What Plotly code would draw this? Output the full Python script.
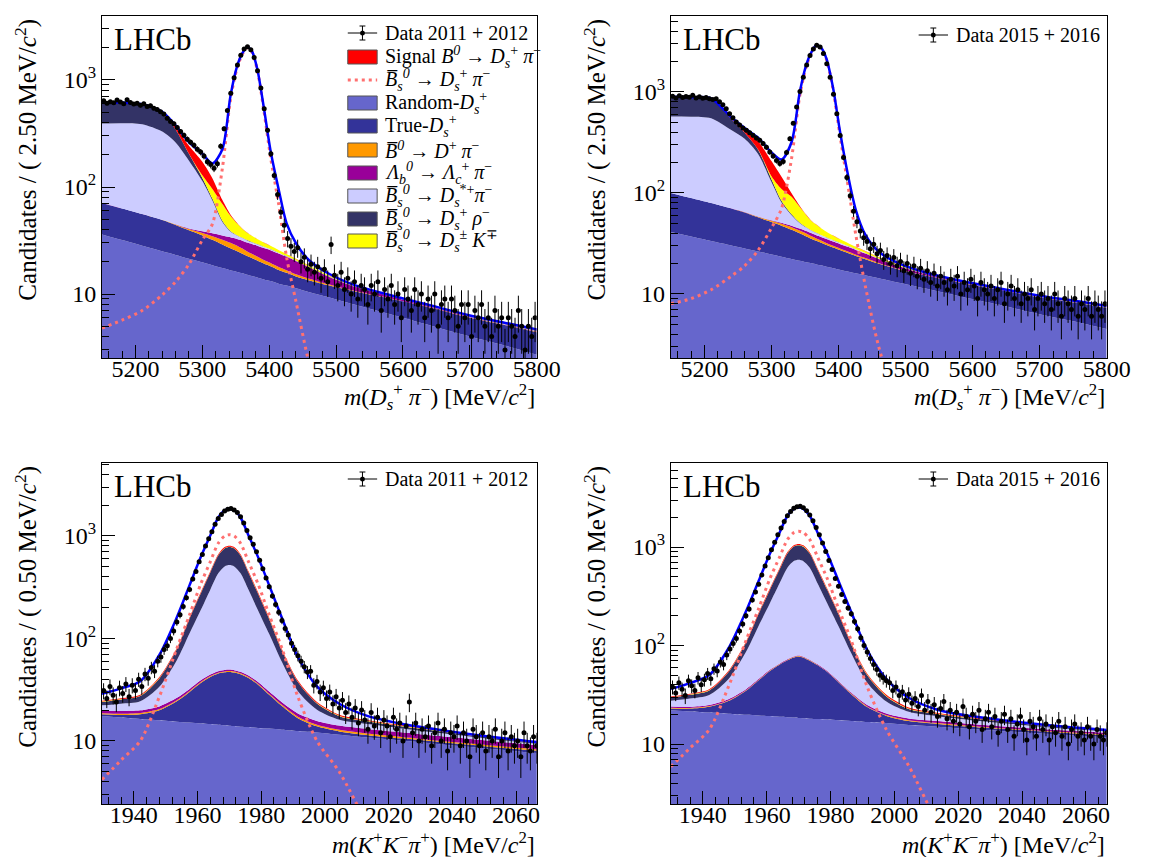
import numpy as np
import plotly.graph_objects as go
from plotly.subplots import make_subplots

W, H = 1153, 857
SERIF = "Liberation Serif"

# ---- fit components, m(Ds pi) projection (values per 2.50 MeV) ----
mass_dspi = [5150, 5180, 5210, 5240, 5260, 5280, 5300, 5315, 5330, 5342, 5352, 5360, 5367, 5374,
             5382, 5392, 5402, 5414, 5426, 5440, 5460, 5490, 5530, 5580, 5640, 5700, 5760, 5800]

run1_dspi_random = [36.0, 31.9, 28.3, 25.1, 23.2, 21.4, 19.8, 18.6, 17.5, 16.7, 16.1, 15.6, 15.1, 14.7,
                    14.3, 13.7, 13.2, 12.5, 12.0, 11.3, 10.4, 9.3, 7.9, 6.5, 5.1, 4.0, 3.2, 2.7]
run1_dspi_true = [35, 31, 27.5, 24, 21, 18, 15.5, 13.5, 11.5, 10, 9, 8.2, 7.5, 7,
                  6.3, 5.6, 5, 4.3, 3.8, 3.3, 3, 2.7, 2.6, 2.6, 2.4, 2.0, 1.8, 1.7]
run1_dspi_bdpi = [0.05, 0.05, 0.1, 0.2, 0.5, 1.0, 1.8, 2.6, 3.2, 3.4, 3.2, 2.8, 2.4, 2.1,
                  1.8, 1.5, 1.3, 1.1, 0.9, 0.7, 0.5, 0.25, 0.1, 0.05, 0.03, 0.03, 0.03, 0.03]
run1_dspi_lb = [0.05, 0.05, 0.05, 0.05, 0.2, 0.6, 1.4, 2.2, 3.0, 3.8, 4.4, 4.9, 5.3, 5.6,
                5.9, 6.1, 6.2, 6.0, 5.6, 5.0, 3.8, 2.2, 1.0, 0.4, 0.15, 0.08, 0.05, 0.05]
run1_dspi_dsstar = [320, 332, 330, 280, 215, 135, 75, 38, 12, 4.5, 2.5, 1.8, 1.4, 1.1,
                    0.9, 0.7, 0.5, 0.35, 0.25, 0.2, 0.12, 0.08, 0.05, 0.05, 0.05, 0.05, 0.05, 0.05]
run1_dspi_rho = [225, 215, 200, 160, 85, 28, 8, 3, 1.2, 0.5, 0.3, 0.2, 0.2, 0.15,
                 0.15, 0.1, 0.1, 0.1, 0.08, 0.06, 0.05, 0.05, 0.05, 0.05, 0.05, 0.05, 0.05, 0.05]
run1_dspi_dsk = [0.02, 0.02, 0.03, 0.05, 0.2, 1.0, 7, 18, 21, 15, 10, 7, 5.5, 4.3,
                 3.3, 2.5, 1.9, 1.4, 1.0, 0.7, 0.45, 0.25, 0.12, 0.06, 0.03, 0.03, 0.03, 0.03]
run1_dspi_signal = [0.05, 0.1, 0.6, 5, 18, 38, 44, 25, 6, 1.5, 0.5, 0.25, 0.15, 0.1,
                    0.1, 0.08, 0.06, 0.05, 0.05, 0.05, 0.05, 0.05, 0.05, 0.05, 0.05, 0.05, 0.05, 0.05]
run1_dspi_bs = [4.8, 5.7, 7.0, 9.8, 13, 19, 32, 45, 150, 650, 1300, 1750, 2000, 1830,
                1250, 520, 190, 70, 22, 8.5, 2.2, 0.5, 0.1, 0.03, 0.01, 0.01, 0.01, 0.01]

run2_dspi_random = [41.0, 37.0, 33.4, 30.2, 28.2, 26.4, 24.6, 23.4, 22.2, 21.3, 20.6, 20.1, 19.6, 19.2,
                    18.6, 18.0, 17.4, 16.7, 16.0, 15.3, 14.3, 12.9, 11.3, 9.5, 7.8, 6.3, 5.2, 4.5]
run2_dspi_true = [59, 52, 46, 40, 36, 31, 27, 24, 21, 18.5, 16.5, 15, 14, 13,
                  12, 10.8, 9.8, 8.7, 7.8, 6.8, 5.6, 4.6, 3.9, 3.5, 3.2, 3.0, 2.9, 2.8]
run2_dspi_bdpi = [0.04, 0.04, 0.08, 0.16, 0.4, 0.8, 1.4, 2.1, 2.6, 2.7, 2.6, 2.2, 1.9, 1.7,
                  1.4, 1.2, 1.0, 0.9, 0.7, 0.55, 0.4, 0.2, 0.08, 0.04, 0.03, 0.03, 0.03, 0.03]
run2_dspi_lb = [0.03, 0.03, 0.03, 0.03, 0.1, 0.3, 0.7, 1.1, 1.5, 1.9, 2.2, 2.5, 2.7, 2.8,
                3.0, 3.1, 3.1, 3.0, 2.8, 2.5, 1.9, 1.1, 0.5, 0.2, 0.08, 0.04, 0.03, 0.03]
run2_dspi_dsstar = [470, 480, 470, 350, 280, 185, 75, 30, 13, 6, 3.5, 2.5, 2, 1.6,
                    1.3, 1, 0.75, 0.55, 0.4, 0.3, 0.2, 0.12, 0.08, 0.08, 0.08, 0.08, 0.08, 0.08]
run2_dspi_rho = [320, 310, 300, 120, 50, 25, 8, 3, 1.2, 0.5, 0.3, 0.2, 0.2, 0.15,
                 0.15, 0.1, 0.1, 0.1, 0.08, 0.06, 0.05, 0.05, 0.05, 0.05, 0.05, 0.05, 0.05, 0.05]
run2_dspi_dsk = [0.03, 0.03, 0.04, 0.07, 0.3, 1.5, 10, 26, 30, 22, 14.5, 10, 8, 6.2,
                 4.8, 3.6, 2.8, 2.0, 1.45, 1.0, 0.65, 0.35, 0.17, 0.09, 0.04, 0.04, 0.04, 0.04]
run2_dspi_signal = [0.07, 0.15, 0.8, 7, 25, 55, 60, 35, 8, 2, 0.6, 0.3, 0.2, 0.15,
                    0.1, 0.1, 0.08, 0.07, 0.07, 0.07, 0.07, 0.07, 0.07, 0.07, 0.07, 0.07, 0.07, 0.07]
run2_dspi_bs = [8, 9, 11, 15, 19, 27, 45, 70, 220, 900, 1800, 2450, 2850, 2700,
                2100, 1050, 380, 120, 38, 12, 3, 0.7, 0.15, 0.04, 0.01, 0.01, 0.01, 0.01]

# ---- fit components, m(KK pi) projection (values per 0.50 MeV) ----
mass_kkpi = [1930, 1936, 1942, 1948, 1953.5, 1957.5, 1961, 1964, 1966.5, 1968.5, 1970, 1971.5, 1973.5,
             1976, 1979, 1982.5, 1986.5, 1991.5, 1997.5, 2004.5, 2013.5, 2024, 2036, 2050, 2067]

run1_kkpi_random = [17.5, 16.9, 16.4, 15.9, 15.4, 15.1, 14.8, 14.6, 14.4, 14.2, 14.1, 14.0, 13.8,
                    13.7, 13.4, 13.2, 12.9, 12.5, 12.1, 11.5, 10.8, 10.1, 9.3, 8.5, 7.6]
run1_kkpi_true = [0.7, 1.0, 1.8, 4.0, 9.0, 15, 22, 27.5, 31, 32.5, 33, 32.5, 31,
                  27.5, 22, 15, 9, 4.2, 1.8, 0.9, 0.6, 0.5, 0.45, 0.4, 0.4]
run1_kkpi_bdpi = [0.45, 0.5, 0.5, 0.55, 0.6, 0.7, 0.8, 0.9, 1.0, 1.0, 1.0, 1.0, 1.0,
                  0.9, 0.8, 0.7, 0.6, 0.55, 0.5, 0.45, 0.4, 0.35, 0.3, 0.3, 0.25]
run1_kkpi_lb = [1.1, 1.2, 1.2, 1.3, 1.35, 1.4, 1.45, 1.5, 1.55, 1.6, 1.6, 1.6, 1.55,
                1.5, 1.45, 1.4, 1.35, 1.3, 1.3, 1.3, 1.3, 1.2, 1.1, 0.95, 0.8]
run1_kkpi_dsstar = [2.5, 3.5, 4.5, 12, 35, 80, 150, 255, 385, 455, 470, 455, 385,
                    255, 150, 80, 35, 12, 4.5, 2.0, 1.5, 1.1, 0.8, 0.5, 0.3]
run1_kkpi_rho = [1.8, 2.3, 3.0, 7, 17, 44, 85, 140, 212, 252, 260, 252, 212,
                 140, 85, 44, 17, 7, 3.0, 1.3, 0.9, 0.7, 0.5, 0.3, 0.2]
run1_kkpi_dsk = [0.2, 0.2, 0.25, 0.35, 0.6, 1.2, 2.1, 2.8, 4.1, 4.8, 5.0, 4.8, 4.1,
                 2.8, 2.1, 1.2, 0.6, 0.35, 0.25, 0.2, 0.15, 0.1, 0.08, 0.06, 0.05]
run1_kkpi_signal = [0.4, 0.5, 0.6, 1.0, 2.0, 4.0, 7.0, 11, 16, 19.5, 20, 19.5, 16,
                    11, 7, 4, 2, 1, 0.6, 0.4, 0.3, 0.25, 0.2, 0.15, 0.1]
run1_kkpi_bs = [4.2, 6.5, 10, 27, 80, 170, 340, 560, 850, 1000, 1030, 1000, 850,
                560, 340, 170, 80, 27, 10, 5.0, 1.5, 0.4, 0.1, 0.03, 0.01]

run2_kkpi_random = [22.0, 21.4, 20.9, 20.3, 19.8, 19.5, 19.2, 18.9, 18.7, 18.6, 18.4, 18.3, 18.1,
                    17.9, 17.7, 17.4, 17.1, 16.7, 16.3, 15.6, 15.0, 14.2, 13.4, 12.6, 11.7]
run2_kkpi_true = [1.0, 1.5, 3.0, 7, 15, 25, 36, 45, 52, 57, 59, 57, 52,
                  45, 36, 25, 15, 7, 3, 1.5, 1.0, 0.8, 0.7, 0.6, 0.6]
run2_kkpi_bdpi = [0.3, 0.35, 0.35, 0.4, 0.4, 0.5, 0.55, 0.6, 0.7, 0.7, 0.7, 0.7, 0.7,
                  0.6, 0.55, 0.5, 0.4, 0.4, 0.35, 0.3, 0.3, 0.25, 0.2, 0.2, 0.2]
run2_kkpi_lb = [0.7, 0.7, 0.7, 0.8, 0.8, 0.85, 0.9, 0.9, 0.95, 1.0, 1.0, 1.0, 0.95,
                0.9, 0.9, 0.85, 0.8, 0.8, 0.8, 0.8, 0.8, 0.7, 0.65, 0.55, 0.5]
run2_kkpi_dsstar = [3.5, 5, 6.5, 17, 50, 113, 212, 360, 545, 642, 664, 642, 545,
                    360, 212, 113, 50, 17, 6.5, 3.0, 2.0, 1.5, 1.1, 0.7, 0.4]
run2_kkpi_rho = [2.1, 2.6, 3.5, 8, 20, 51, 98, 161, 244, 290, 300, 290, 244,
                 161, 98, 51, 20, 8, 3.5, 1.5, 1.0, 0.8, 0.6, 0.35, 0.25]
run2_kkpi_dsk = [0.26, 0.26, 0.33, 0.45, 0.8, 1.6, 2.7, 3.6, 5.3, 6.2, 6.5, 6.2, 5.3,
                 3.6, 2.7, 1.6, 0.8, 0.45, 0.33, 0.26, 0.2, 0.13, 0.1, 0.08, 0.06]
run2_kkpi_signal = [0.5, 0.65, 0.8, 1.3, 2.6, 5.2, 9.1, 14.3, 21, 25, 26, 25, 21,
                    14.3, 9.1, 5.2, 2.6, 1.3, 0.8, 0.5, 0.4, 0.33, 0.26, 0.2, 0.13]
run2_kkpi_bs = [5.9, 9.1, 14, 38, 112, 238, 476, 784, 1190, 1400, 1443, 1400, 1190,
                784, 476, 238, 112, 38, 14, 6.0, 1.6, 0.5, 0.14, 0.04, 0.01]

# ---- data: candidates per bin ----
dspi_first_bin, dspi_bin_step = 5152.5, 5.0
kkpi_first_bin, kkpi_bin_step = 1930.5, 1.0

run1_dspi_counts = [
    640, 605, 625, 612, 650, 622, 600, 655, 615, 595, 605, 580, 600, 565, 575, 545, 530, 505, 480, 440,
    410, 390, 360, 330, 305, 280, 262, 245, 225, 212, 195, 172, 162, 150, 165, 240, 350, 520, 750, 1050,
    1380, 1700, 1950, 2050, 1920, 1620, 1220, 840, 540, 340, 205, 128, 85, 58, 44, 33, 28, 25, 27, 20,
    22, 17, 19, 16, 18, 14, 17, 13, 29, 15, 12, 16, 11, 14, 10, 13, 9, 12, 11, 8,
    12, 10, 13, 7, 11, 9, 12, 8, 10, 6, 11, 9, 7, 11, 8, 10, 6, 9, 7, 10,
    5, 8, 9, 6, 9, 7, 5, 8, 6, 8, 4, 7, 6, 8, 5, 6, 4, 7, 5, 6,
    3, 6, 5, 4, 7, 5, 3, 5, 4, 6]
run2_dspi_counts = [
    905, 870, 915, 880, 900, 888, 930, 872, 898, 868, 880, 855, 842, 858, 800, 745, 680, 610, 555, 505,
    470, 440, 418, 395, 372, 350, 333, 308, 284, 255, 232, 210, 196, 205, 252, 345, 490, 710, 1010, 1400,
    1850, 2300, 2660, 2900, 2780, 2400, 1900, 1400, 950, 610, 370, 225, 142, 94, 66, 52, 42, 36, 33, 28,
    31, 25, 27, 22, 24, 20, 23, 19, 21, 17, 20, 16, 19, 15, 18, 14, 17, 13, 16, 12,
    15, 13, 11, 14, 12, 15, 10, 13, 11, 14, 12, 9, 13, 11, 10, 12, 9, 11, 13, 8,
    10, 12, 9, 11, 8, 10, 9, 11, 7, 9, 10, 8, 9, 7, 10, 8, 6, 9, 8, 7,
    9, 6, 8, 7, 9, 6, 8, 7, 6, 8]
run1_kkpi_counts = [
    31, 26, 34, 28, 24, 33, 29, 36, 27, 35, 31, 40, 34, 45, 41, 52, 48, 60, 66, 78,
    85, 100, 118, 145, 170, 205, 250, 300, 380, 450, 560, 660, 800, 940, 1100, 1300, 1480, 1620, 1750, 1820,
    1850, 1790, 1690, 1540, 1340, 1130, 960, 830, 700, 580, 480, 390, 320, 260, 215, 180, 150, 125, 108, 90,
    78, 68, 60, 53, 47, 48, 35, 38, 30, 33, 26, 30, 23, 27, 21, 25, 19, 23, 17, 21,
    15, 20, 16, 13, 19, 14, 17, 12, 16, 14, 11, 17, 13, 15, 10, 14, 24, 12, 15, 10,
    13, 11, 14, 9, 12, 15, 10, 13, 8, 12, 11, 14, 9, 12, 10, 7, 13, 11, 9, 12,
    8, 11, 10, 13, 7, 10, 12, 8, 11, 9, 10, 7, 12, 9, 8, 11, 9]
run2_kkpi_counts = [
    38, 33, 42, 36, 31, 44, 39, 35, 47, 40, 45, 52, 46, 58, 55, 68, 64, 80, 92, 105,
    118, 140, 165, 200, 235, 290, 350, 420, 520, 640, 780, 940, 1120, 1330, 1560, 1820, 2080, 2300, 2470, 2560,
    2590, 2500, 2340, 2120, 1850, 1580, 1330, 1100, 900, 730, 590, 480, 400, 330, 280, 240, 210, 175, 148, 120,
    100, 86, 74, 64, 57, 50, 47, 44, 42, 35, 38, 31, 34, 28, 32, 26, 29, 24, 31, 22,
    27, 21, 25, 19, 23, 27, 18, 22, 17, 21, 16, 24, 19, 15, 20, 17, 22, 14, 18, 21,
    15, 19, 13, 17, 20, 14, 18, 12, 16, 19, 14, 11, 17, 15, 12, 18, 14, 16, 11, 15,
    13, 17, 12, 15, 10, 14, 16, 12, 13, 11, 15, 12, 10, 14, 12, 11, 13]

# stack order bottom -> top
stack_colours = ['#6666CC', '#333399', '#FF9900', '#990099', '#CCCCFF', '#333366', '#FFFF00', '#FF0000']
BS_COLOUR = '#FF7070'
FIT_COLOUR = '#0000FF'


def pp(x, y):
    # pixel -> paper coordinates
    return x / W, 1 - y / H


panels = [
    (1, 1, mass_dspi, [run1_dspi_random, run1_dspi_true, run1_dspi_bdpi, run1_dspi_lb, run1_dspi_dsstar,
                       run1_dspi_rho, run1_dspi_dsk, run1_dspi_signal], run1_dspi_bs, run1_dspi_counts,
     dspi_first_bin, dspi_bin_step),
    (1, 2, mass_dspi, [run2_dspi_random, run2_dspi_true, run2_dspi_bdpi, run2_dspi_lb, run2_dspi_dsstar,
                       run2_dspi_rho, run2_dspi_dsk, run2_dspi_signal], run2_dspi_bs, run2_dspi_counts,
     dspi_first_bin, dspi_bin_step),
    (2, 1, mass_kkpi, [run1_kkpi_random, run1_kkpi_true, run1_kkpi_bdpi, run1_kkpi_lb, run1_kkpi_dsstar,
                       run1_kkpi_rho, run1_kkpi_dsk, run1_kkpi_signal], run1_kkpi_bs, run1_kkpi_counts,
     kkpi_first_bin, kkpi_bin_step),
    (2, 2, mass_kkpi, [run2_kkpi_random, run2_kkpi_true, run2_kkpi_bdpi, run2_kkpi_lb, run2_kkpi_dsstar,
                       run2_kkpi_rho, run2_kkpi_dsk, run2_kkpi_signal], run2_kkpi_bs, run2_kkpi_counts,
     kkpi_first_bin, kkpi_bin_step),
]

fig = make_subplots(rows=2, cols=2)

for row, col, grid, comps, bs, counts, first_bin, step in panels:
    grid = np.array(grid, float)
    # invisible floor for the first filled layer
    fig.add_trace(go.Scatter(x=grid, y=np.full(len(grid), 1e-2), mode='lines', line=dict(width=0),
                             hoverinfo='skip', showlegend=False), row=row, col=col)
    cum = np.zeros(len(grid))
    for comp, colour in zip(comps, stack_colours):
        cum = cum + np.array(comp, float)
        fig.add_trace(go.Scatter(x=grid, y=cum.copy(), mode='lines',
                                 line=dict(width=0, shape='spline', smoothing=0.8),
                                 fill='tonexty', fillcolor=colour, hoverinfo='skip', showlegend=False),
                      row=row, col=col)
    bs = np.array(bs, float)
    fig.add_trace(go.Scatter(x=grid, y=bs, mode='lines',
                             line=dict(color=BS_COLOUR, width=3, dash='3px,4px', shape='spline', smoothing=0.8),
                             showlegend=False), row=row, col=col)
    fig.add_trace(go.Scatter(x=grid, y=cum + bs, mode='lines',
                             line=dict(color=FIT_COLOUR, width=2.5, shape='spline', smoothing=0.8),
                             showlegend=False), row=row, col=col)
    counts = np.array(counts, float)
    centres = first_bin + step * np.arange(len(counts))
    fig.add_trace(go.Scatter(x=centres, y=counts, mode='markers', marker=dict(color='black', size=5),
                             error_y=dict(type='data', array=np.sqrt(counts), color='black',
                                          thickness=1, width=0),
                             showlegend=False), row=row, col=col)

# ---- axes ----
tick_font = dict(family=SERIF, size=24, color='black')
minor_log = [v * 10 ** e for e in range(0, 4) for v in range(2, 10)]
frame = dict(showline=True, linecolor='black', linewidth=1, mirror=True, ticks='inside',
             tickcolor='black', tickwidth=1, showgrid=False, zeroline=False, tickfont=tick_font)

# pixel boxes: (left, right, top, bottom) and log y ranges
boxes = {1: (96, 540, 8, 350), 2: (677, 1122, 8, 350), 3: (96, 540, 455, 796), 4: (677, 1122, 455, 796)}
yranges = {1: [0.402, 3.598], 2: [0.366, 3.752], 3: [0.385, 3.712], 4: [0.391, 3.853]}

for i in range(1, 5):
    l, r, t, b = boxes[i]
    sfx = '' if i == 1 else str(i)
    if i <= 2:
        xr, tick0, dtick, mdt = [5150, 5800], 5200, 100, 20
    else:
        xr, tick0, dtick, mdt = [1930, 2066.5], 1940, 20, 4
    fig.update_layout(**{
        'xaxis' + sfx: dict(frame, domain=[l / W, r / W], range=xr, tick0=tick0, dtick=dtick, ticklen=13,
                            ticklabelstandoff=-11,
                            minor=dict(ticks='inside', ticklen=7, dtick=mdt, tick0=tick0, tickcolor='black')),
        'yaxis' + sfx: dict(frame, domain=[1 - b / H, 1 - t / H], type='log', range=yranges[i],
                            tickvals=[10, 100, 1000], ticktext=['10', '10<sup>2</sup>', '10<sup>3</sup>'],
                            ticklen=13,
                            minor=dict(ticks='inside', ticklen=7, tickvals=minor_log, tickcolor='black')),
    })

# ---- text ----
ann = []
shapes = []


def text(x, y, s, size, xanchor='left', yanchor='middle', angle=0):
    ax, ay = pp(x, y)
    ann.append(dict(x=ax, y=ay, xref='paper', yref='paper', text=s, showarrow=False, xanchor=xanchor,
                    yanchor=yanchor, textangle=angle, font=dict(family=SERIF, size=size, color='black')))


xt_dspi = '<i>m</i>(<i>D</i><sub><i>s</i></sub><sup>+</sup> <i>π</i><sup>−</sup>) [MeV/<i>c</i><sup>2</sup>]'
xt_kkpi = '<i>m</i>(<i>K</i><sup>+</sup><i>K</i><sup>−</sup><i>π</i><sup>+</sup>) [MeV/<i>c</i><sup>2</sup>]'
yt_dspi = 'Candidates / ( 2.50 MeV/<i>c</i><sup>2</sup>)'
yt_kkpi = 'Candidates / ( 0.50 MeV/<i>c</i><sup>2</sup>)'

for i in range(1, 5):
    l, r, t, b = boxes[i]
    text(r, b + 39, xt_dspi if i <= 2 else xt_kkpi, 24, xanchor='right')
    text(l - 78, t + 1, yt_dspi if i <= 2 else yt_kkpi, 25, xanchor='center', yanchor='top', angle=-90)
    text(l + 10, t + 24, 'LHCb', 31)


def data_symbol(x0, yc):
    xm = x0 + 15
    shapes.append(dict(type='line', xref='paper', yref='paper', x0=pp(x0, yc)[0], x1=pp(x0 + 30, yc)[0],
                       y0=pp(0, yc)[1], y1=pp(0, yc)[1], line=dict(color='black', width=1)))
    shapes.append(dict(type='line', xref='paper', yref='paper', x0=pp(xm, 0)[0], x1=pp(xm, 0)[0],
                       y0=pp(0, yc - 7)[1], y1=pp(0, yc + 7)[1], line=dict(color='black', width=1)))
    for yy in (yc - 7, yc + 7):
        shapes.append(dict(type='line', xref='paper', yref='paper', x0=pp(xm - 3, 0)[0], x1=pp(xm + 3, 0)[0],
                           y0=pp(0, yy)[1], y1=pp(0, yy)[1], line=dict(color='black', width=1)))
    shapes.append(dict(type='circle', xref='paper', yref='paper', x0=pp(xm - 2.5, 0)[0], x1=pp(xm + 2.5, 0)[0],
                       y0=pp(0, yc + 2.5)[1], y1=pp(0, yc - 2.5)[1], fillcolor='black',
                       line=dict(color='black', width=0)))


bbar = 'B\u0305'
legend_rows = [
    ('data', None, 'Data 2011 + 2012'),
    ('box', '#FF0000', 'Signal <i>B</i><sup><i>0</i></sup> → <i>D</i><sub><i>s</i></sub><sup>+</sup> <i>π</i><sup>−</sup>'),
    ('dot', BS_COLOUR, '<i>' + bbar + '</i><sub><i>s</i></sub><sup><i>0</i></sup> → <i>D</i><sub><i>s</i></sub><sup>+</sup> <i>π</i><sup>−</sup>'),
    ('box', '#6666CC', 'Random-<i>D</i><sub><i>s</i></sub><sup>+</sup>'),
    ('box', '#333399', 'True-<i>D</i><sub><i>s</i></sub><sup>+</sup>'),
    ('box', '#FF9900', '<i>' + bbar + '</i><sup><i>0</i></sup> → <i>D</i><sup>+</sup> <i>π</i><sup>−</sup>'),
    ('box', '#990099', '<i>Λ</i><sub><i>b</i></sub><sup><i>0</i></sup> → <i>Λ</i><sub><i>c</i></sub><sup>+</sup> <i>π</i><sup>−</sup>'),
    ('box', '#CCCCFF', '<i>' + bbar + '</i><sub><i>s</i></sub><sup><i>0</i></sup> → <i>D</i><sub><i>s</i></sub><sup>*+</sup><i>π</i><sup>−</sup>'),
    ('box', '#333366', '<i>' + bbar + '</i><sub><i>s</i></sub><sup><i>0</i></sup> → <i>D</i><sub><i>s</i></sub><sup>+</sup> <i>ρ</i><sup>−</sup>'),
    ('box', '#FFFF00', '<i>' + bbar + '</i><sub><i>s</i></sub><sup><i>0</i></sup> → <i>D</i><sub><i>s</i></sub><sup>±</sup> <i>K</i><sup>∓</sup>'),
]
row_y = [25, 49, 72, 95, 118, 142, 165, 188, 211, 233]
for (kind, colour, label), yc in zip(legend_rows, row_y):
    if kind == 'data':
        data_symbol(347, yc)
    elif kind == 'dot':
        shapes.append(dict(type='line', xref='paper', yref='paper', x0=pp(347, 0)[0], x1=pp(377, 0)[0],
                           y0=pp(0, yc)[1], y1=pp(0, yc)[1], line=dict(color=colour, width=3, dash='3px,4px')))
    else:
        shapes.append(dict(type='rect', xref='paper', yref='paper', x0=pp(347, 0)[0], x1=pp(377, 0)[0],
                           y0=pp(0, yc + 7)[1], y1=pp(0, yc - 7)[1], fillcolor=colour,
                           line=dict(color='#555555', width=1)))
    text(383, yc, label, 20)

for x0, yc, label in [(930, 27, 'Data 2015 + 2016'), (347, 471, 'Data 2011 + 2012'),
                      (930, 471, 'Data 2015 + 2016')]:
    data_symbol(x0, yc)
    text(x0 + 36, yc, label, 20)

fig.update_layout(width=W, height=H, margin=dict(l=0, r=0, t=0, b=0), showlegend=False,
                  plot_bgcolor='white', paper_bgcolor='white', annotations=ann, shapes=shapes,
                  font=dict(family=SERIF, color='black'))

fig.write_html("out.html")
